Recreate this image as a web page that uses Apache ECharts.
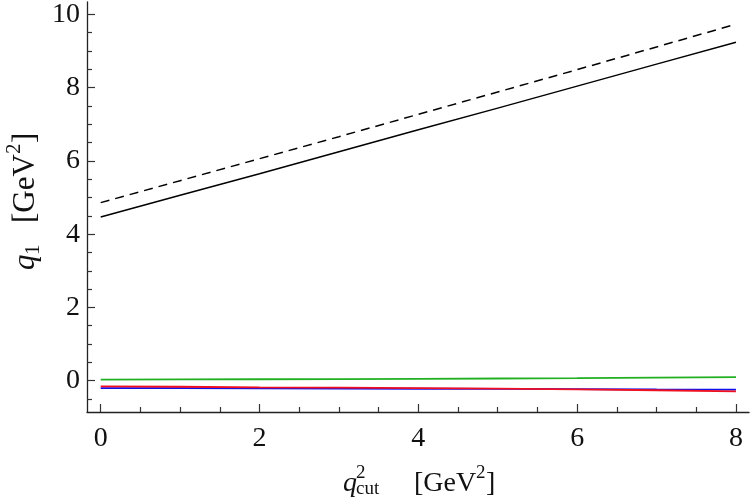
<!DOCTYPE html>
<html>
<head>
<meta charset="utf-8">
<script src="https://cdn.jsdelivr.net/npm/echarts@6/dist/echarts.min.js"></script>
<style>
html,body{margin:0;padding:0;background:#fff;}
#main{width:750px;height:503px;}
</style>
</head>
<body>
<div id="main"></div>
<script>
// ---- data ----
var qcut = [0, 1, 2, 3, 4, 5, 6, 7, 8];
var solidBlack  = [4.47, 5.06, 5.65, 6.25, 6.85, 7.44, 8.04, 8.64, 9.24];
var dashedBlack = [4.86, 5.46, 6.06, 6.66, 7.27, 7.88, 8.49, 9.11, 9.73];
var greenLine   = [0.03, 0.035, 0.04, 0.045, 0.05, 0.06, 0.07, 0.085, 0.10];
var blueLine    = [-0.20, -0.205, -0.21, -0.215, -0.22, -0.225, -0.23, -0.24, -0.245];
var redLine     = [-0.155, -0.165, -0.18, -0.19, -0.205, -0.215, -0.235, -0.26, -0.29];
var xMajorTicks = [0, 2, 4, 6, 8];
var xMinorTicks = [0.5, 1, 1.5, 2.5, 3, 3.5, 4.5, 5, 5.5, 6.5, 7, 7.5];
var yMajorTicks = [0, 2, 4, 6, 8, 10];
var yMinorTicks = [-0.5, 0.5, 1, 1.5, 2.5, 3, 3.5, 4.5, 5, 5.5, 6.5, 7, 7.5, 8.5, 9, 9.5];

function pairs(xs, ys) { return xs.map(function (x, i) { return [x, ys[i]]; }); }

var FONT = '"Liberation Serif", "DejaVu Serif", serif';
var F = 28, FS = 19, FY = 31, FYS = 21;
var X_MIN = -0.1725, X_MAX = 8.164, Y_MIN = -0.854, Y_MAX = 10.336;

var chart = echarts.init(document.getElementById('main'), null, {renderer: 'canvas'});

function xAxisDef(ticks, len, showLine, showLabel) {
  return {
    type: 'value', min: X_MIN, max: X_MAX, gridIndex: 0, position: 'bottom',
    axisLine: {show: showLine, onZero: false, lineStyle: {color: '#222', width: 1.3}},
    axisTick: {show: true, inside: true, length: len, customValues: ticks, lineStyle: {color: '#333', width: 1.2}},
    axisLabel: {show: showLabel, customValues: ticks, fontFamily: FONT, fontSize: F, color: '#111', margin: 13},
    splitLine: {show: false}
  };
}
function yAxisDef(ticks, len, showLine, showLabel) {
  return {
    type: 'value', min: Y_MIN, max: Y_MAX, gridIndex: 0, position: 'left',
    axisLine: {show: showLine, onZero: false, lineStyle: {color: '#222', width: 1.3}},
    axisTick: {show: true, inside: true, length: len, customValues: ticks, lineStyle: {color: '#333', width: 1.2}},
    axisLabel: {show: showLabel, customValues: ticks, fontFamily: FONT, fontSize: F, color: '#111', margin: 7},
    splitLine: {show: false}
  };
}

function line(data, color, width, type, z) {
  return {
    type: 'line', xAxisIndex: 0, yAxisIndex: 0, data: pairs(qcut, data),
    showSymbol: false, symbol: 'none', smooth: false, z: z,
    lineStyle: {color: color, width: width, type: type}, animation: false
  };
}

var option = {
  animation: false,
  backgroundColor: '#fff',
  grid: {left: 87, right: 1, top: 2, bottom: 91, containLabel: false},
  xAxis: [xAxisDef(xMajorTicks, 8, true, true), xAxisDef(xMinorTicks, 5, false, false)],
  yAxis: [yAxisDef(yMajorTicks, 8, true, true), yAxisDef(yMinorTicks, 5, false, false)],
  series: [
    line(solidBlack, '#000', 1.5, 'solid', 3),
    line(dashedBlack, '#000', 1.5, [9, 6], 3),
    line(greenLine, '#22b022', 1.8, 'solid', 2),
    line(blueLine, '#1010ee', 1.8, 'solid', 2),
    line(redLine, '#f01020', 1.8, 'solid', 3)
  ],
  graphic: [
    {
      type: 'group', x: 0, y: 0,
      children: [
        {type: 'text', x: 343, y: 484, style: {text: 'q', font: 'italic ' + F + 'px ' + FONT, fill: '#111', verticalAlign: 'middle'}},
        {type: 'text', x: 356, y: 473, style: {text: '2', font: FS + 'px ' + FONT, fill: '#111', verticalAlign: 'middle'}},
        {type: 'text', x: 356, y: 489, style: {text: 'cut', font: FS + 'px ' + FONT, fill: '#111', verticalAlign: 'middle'}},
        {type: 'text', x: 414, y: 484, style: {text: '[GeV', font: F + 'px ' + FONT, fill: '#111', verticalAlign: 'middle'}},
        {type: 'text', x: 476, y: 473, style: {text: '2', font: FS + 'px ' + FONT, fill: '#111', verticalAlign: 'middle'}},
        {type: 'text', x: 486, y: 484, style: {text: ']', font: F + 'px ' + FONT, fill: '#111', verticalAlign: 'middle'}}
      ]
    },
    {
      type: 'group', x: 26, y: 270, rotation: Math.PI / 2,
      children: [
        {type: 'text', x: 0, y: 0, style: {text: 'q', font: 'italic ' + FY + 'px ' + FONT, fill: '#111', verticalAlign: 'middle'}},
        {type: 'text', x: 15, y: 7, style: {text: '1', font: FYS + 'px ' + FONT, fill: '#111', verticalAlign: 'middle'}},
        {type: 'text', x: 47, y: 0, style: {text: '[GeV', font: FY + 'px ' + FONT, fill: '#111', verticalAlign: 'middle'}},
        {type: 'text', x: 116, y: -12, style: {text: '2', font: FYS + 'px ' + FONT, fill: '#111', verticalAlign: 'middle'}},
        {type: 'text', x: 127, y: 0, style: {text: ']', font: FY + 'px ' + FONT, fill: '#111', verticalAlign: 'middle'}}
      ]
    }
  ]
};
chart.setOption(option);
</script>
</body>
</html>
